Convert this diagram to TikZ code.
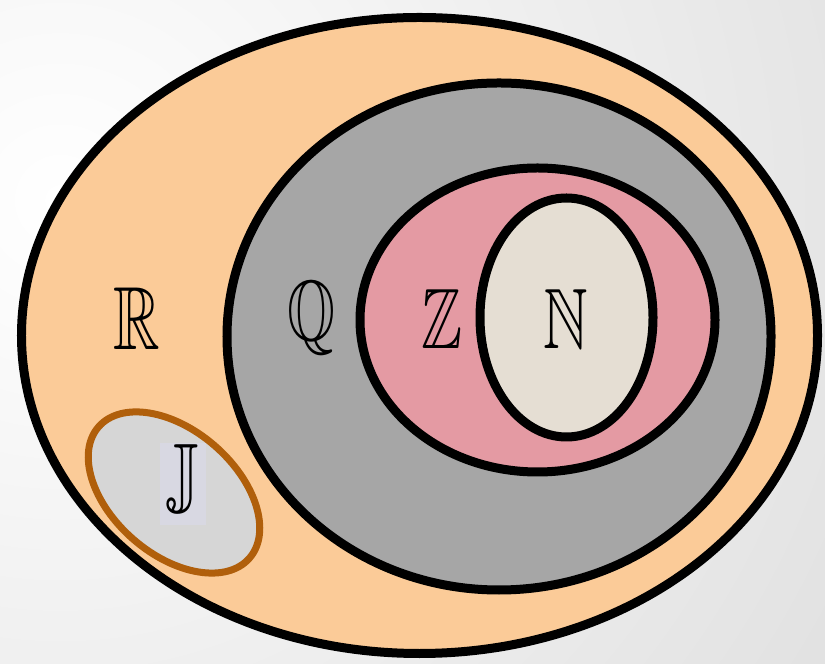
\documentclass[tikz,border=0pt]{standalone}
\usepackage{tikz}
\usetikzlibrary{
    shapes.geometric
}
\DeclareFontFamily{U}{msb}{}
\DeclareFontShape{U}{msb}{m}{n}{<-> msbm10}{}
\newcommand{\conj}[2][86]{%
    \scalebox{0.72}[1]{\fontsize{#1}{#1}\usefont{U}{msb}{m}{n}#2}}

\definecolor{fondoA}{HTML}{E6E6E6}
\definecolor{fondoB}{HTML}{D2D2D2}
\definecolor{fondoC}{HTML}{B6B6B6}
\definecolor{fondoD}{HTML}{9C9C9C}
\definecolor{colR}{HTML}{FBCB98}
\definecolor{colQ}{HTML}{A6A6A6}
\definecolor{colZ}{HTML}{E49AA3}
\definecolor{colN}{HTML}{E5DED3}
\definecolor{colJ}{HTML}{D6D6D6}
\definecolor{colJborde}{HTML}{B05F0B}
\definecolor{colJetiq}{HTML}{D8D8E2}

\pgfdeclareradialshading{fondo}{\pgfpoint{0bp}{0bp}}{
    color(0bp)=(white);
    color(19bp)=(fondoA);
    color(34bp)=(fondoB);
    color(40bp)=(fondoC);
    color(50bp)=(fondoD)
}

\tikzset{
    conjunto/.style={
        ellipse,
        draw=black,
        line width=9bp,
        inner sep=0pt
    },
    etiqueta/.style={
        inner sep=0pt
    }
}

\begin{document}
\begin{tikzpicture}[
    x=1bp,
    y=1bp
]

    % Fondo
    \useasboundingbox (0,0) rectangle (825,664);
    \begin{scope}
        \clip (0,0) rectangle (825,664);
        \shade[shading=fondo] (60,464) circle (1000);
    \end{scope}

    % Conjuntos
    \node[conjunto, fill=colR, minimum width=796bp, minimum height=636bp]
        (R) at (419.5,328.5) {};
    \node[conjunto, fill=colQ, minimum width=544bp, minimum height=507bp]
        (Q) at (499,327.5) {};
    \node[conjunto, fill=colZ, minimum width=355bp, minimum height=304bp]
        (Z) at (537.5,344) {};
    \node[conjunto, fill=colN, minimum width=173bp, minimum height=239bp]
        (N) at (566.5,346.5) {};
    \node[conjunto, draw=colJborde, line width=7bp, fill=colJ,
          minimum width=200bp, minimum height=124bp, rotate=-41]
        (J) at (174,171.5) {};

    % Etiquetas
    \node[etiqueta] (lR) at (137,345.5) {\conj[90]{R}};
    \node[etiqueta] (lQ) at (311,346)   {\conj[86]{Q}};
    \node[etiqueta] (lZ) at (442,345.5) {\conj{Z}};
    \node[etiqueta] (lN) at (566,345.5) {\conj{N}};
    \node[etiqueta, fill=colJetiq, minimum width=46bp, minimum height=82bp]
        (lJ) at (183,180) {\conj[92]{J}};

\end{tikzpicture}
\end{document}
